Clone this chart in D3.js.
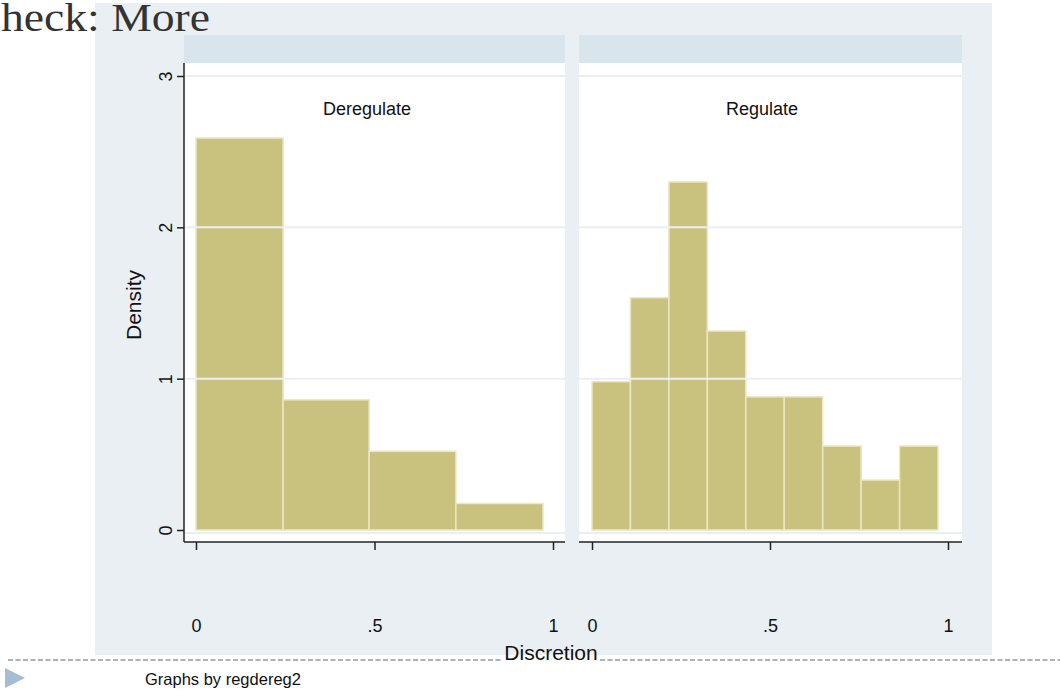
<!DOCTYPE html>
<html>
<head>
<meta charset="utf-8">
<script src="https://cdn.jsdelivr.net/npm/d3@7"></script>
<style>
  body { margin: 0; background: #fff; }
  svg { display: block; font-family: "Liberation Sans", Arial, sans-serif; }
</style>
</head>
<body>
<div id="chart"></div>
<script>
// panels and histogram data (density per bin)
const panels = ["Deregulate", "Regulate"];
const deregEdges = [0, 0.244, 0.485, 0.728, 0.972];
const deregDensity = [2.59, 0.86, 0.52, 0.175];
const regEdges = [0, 0.108, 0.216, 0.324, 0.432, 0.540, 0.648, 0.756, 0.864, 0.972];
const regDensity = [0.98, 1.535, 2.30, 1.315, 0.88, 0.88, 0.555, 0.33, 0.555];
const xTicks = [0, 0.5, 1];
const yTicks = [0, 1, 2, 3];

const width = 1060;
const height = 694;

const svg = d3.select("#chart")
  .append("svg")
  .attr("width", width)
  .attr("height", height);

// outer graph region
svg.append("rect")
  .attr("x", 95).attr("y", 3)
  .attr("width", 897).attr("height", 652)
  .attr("fill", "#e9eff2");

// y scale shared
const yScale = d3.scaleLinear().domain([0, 3]).range([530, 76]);

const layout = [
  {name: panels[0], edges: deregEdges, vals: deregDensity, x0: 184, x1: 565, range: [196, 553], titleX: 367},
  {name: panels[1], edges: regEdges, vals: regDensity, x0: 579, x1: 962, range: [592, 948], titleX: 762}
];

const fmt = d => d === 0.5 ? ".5" : d3.format("d")(d);

layout.forEach((p, i) => {
  const xScale = d3.scaleLinear().domain([0, 1]).range(p.range);
  const g = svg.append("g");

  // header strip
  g.append("rect")
    .attr("x", p.x0).attr("y", 35)
    .attr("width", p.x1 - p.x0).attr("height", 28)
    .attr("fill", "#d9e5ec");

  // plot region
  g.append("rect")
    .attr("x", p.x0).attr("y", 63)
    .attr("width", p.x1 - p.x0).attr("height", 479)
    .attr("fill", "#ffffff");

  // bars
  const bins = p.vals.map((v, k) => ({lo: p.edges[k], hi: p.edges[k + 1], v: v}));
  g.selectAll("rect.bar")
    .data(bins)
    .join("rect")
    .attr("class", "bar")
    .attr("x", d => xScale(d.lo))
    .attr("y", d => yScale(d.v))
    .attr("width", d => xScale(d.hi) - xScale(d.lo))
    .attr("height", d => yScale(0) - yScale(d.v))
    .attr("fill", "#c9c27f")
    .attr("stroke", "#ece6c4")
    .attr("stroke-width", 1.5);

  // grid lines
  g.selectAll("line.grid")
    .data(yTicks)
    .join("line")
    .attr("class", "grid")
    .attr("x1", p.x0).attr("x2", p.x1)
    .attr("y1", d => yScale(d) + (d === 0 ? 3 : 0))
    .attr("y2", d => yScale(d) + (d === 0 ? 3 : 0))
    .attr("stroke", "#eaeff2")
    .attr("stroke-width", 2);

  // panel title
  g.append("text")
    .attr("x", p.titleX).attr("y", 115)
    .attr("text-anchor", "middle")
    .style("font-size", "18px")
    .attr("fill", "#111")
    .text(p.name);

  // x axis
  const xAxis = g.append("g")
    .attr("transform", "translate(0,542)")
    .call(d3.axisBottom(xScale).tickValues(xTicks).tickFormat(fmt)
      .tickSize(8).tickSizeOuter(0).tickPadding(69));
  xAxis.select(".domain").remove();
  xAxis.selectAll(".tick line").attr("stroke", "#222").attr("stroke-width", 1.5);
  xAxis.selectAll("text").style("font-size", "18px").attr("fill", "#111")
    .style("font-family", "'Liberation Sans', Arial, sans-serif");

  g.append("line")
    .attr("x1", p.x0).attr("x2", p.x1)
    .attr("y1", 542).attr("y2", 542)
    .attr("stroke", "#222").attr("stroke-width", 1.5);

  // y axis on the first panel only
  if (i === 0) {
    const yAxis = g.append("g")
      .attr("transform", `translate(${p.x0},0)`)
      .call(d3.axisLeft(yScale).tickValues(yTicks).tickFormat(d3.format("d"))
        .tickSize(7).tickSizeOuter(0));
    yAxis.select(".domain").remove();
    yAxis.selectAll(".tick line").attr("stroke", "#222").attr("stroke-width", 1.5);
    yAxis.selectAll("text")
      .attr("x", 0).attr("dy", 0)
      .attr("text-anchor", "middle")
      .attr("transform", "translate(-12,0) rotate(-90)")
      .style("font-size", "18px").attr("fill", "#111")
      .style("font-family", "'Liberation Sans', Arial, sans-serif");

    g.append("line")
      .attr("x1", p.x0).attr("x2", p.x0)
      .attr("y1", 63).attr("y2", 542)
      .attr("stroke", "#222").attr("stroke-width", 1.5);
  }
});

// Y axis label
svg.append("text")
  .attr("transform", "translate(141,305) rotate(-90)")
  .attr("text-anchor", "middle")
  .style("font-size", "21px")
  .attr("fill", "#111")
  .text("Density");

// dashed separator line
[[8, 503], [600, 1060]].forEach(s => {
  svg.append("line")
    .attr("x1", s[0]).attr("x2", s[1])
    .attr("y1", 660).attr("y2", 660)
    .attr("stroke", "#aab3bb")
    .attr("stroke-width", 2)
    .attr("stroke-dasharray", "5,2.5");
});

// X axis label
svg.append("text")
  .attr("x", 551).attr("y", 660)
  .attr("text-anchor", "middle")
  .style("font-size", "21px")
  .attr("fill", "#111")
  .text("Discretion");

// note
svg.append("text")
  .attr("x", 145).attr("y", 685)
  .style("font-size", "16.5px")
  .attr("fill", "#111")
  .text("Graphs by regdereg2");

// bullet triangle
svg.append("path")
  .attr("d", "M5,668 L25,678 L5,688 Z")
  .attr("fill", "#a4bdd2");

// slide title fragment
svg.append("text")
  .attr("x", 1).attr("y", 31)
  .attr("textLength", 209)
  .attr("lengthAdjust", "spacingAndGlyphs")
  .style("font-family", "'Liberation Serif', 'Times New Roman', serif")
  .style("font-size", "40px")
  .attr("fill", "#333")
  .text("heck: More");
</script>
</body>
</html>
